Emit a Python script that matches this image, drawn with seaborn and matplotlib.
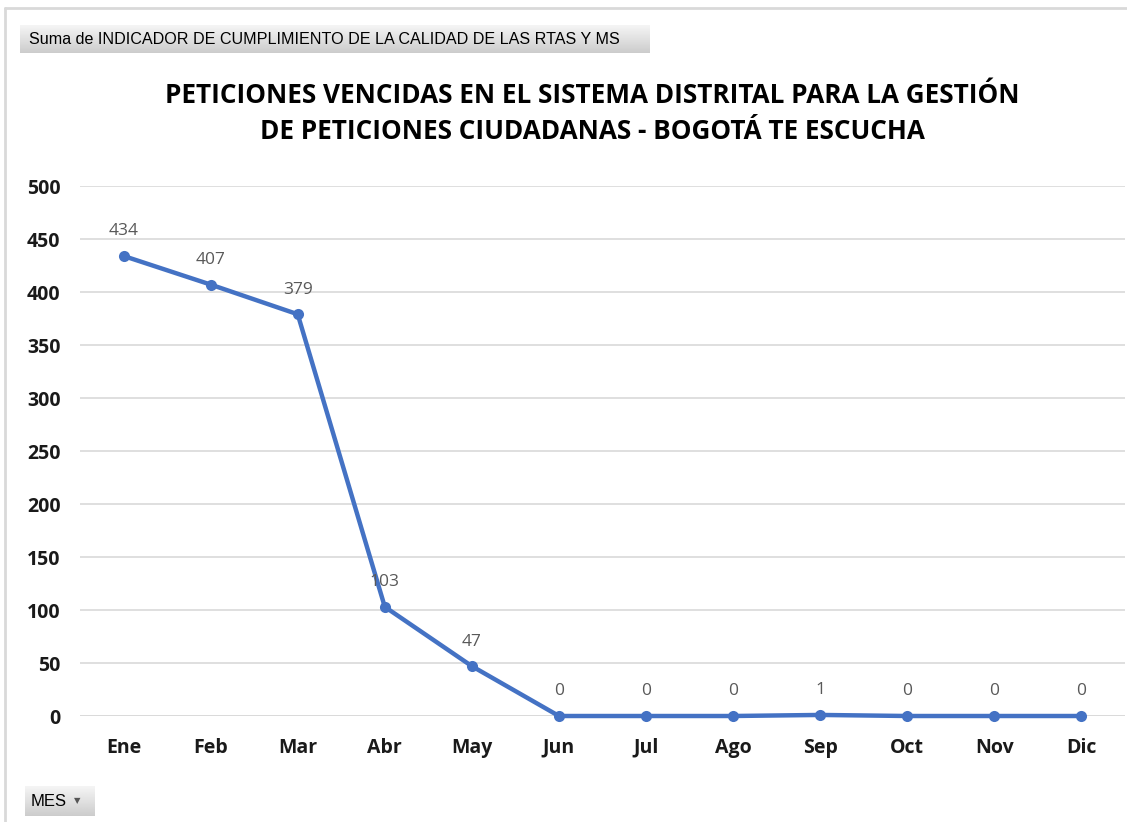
import numpy as np
import pandas as pd
import matplotlib
matplotlib.use("Agg")
import matplotlib.pyplot as plt
import seaborn as sns

# --- Data ---
meses = ["Ene", "Feb", "Mar", "Abr", "May", "Jun", "Jul", "Ago", "Sep", "Oct", "Nov", "Dic"]
valores = [434, 407, 379, 103, 47, 0, 0, 0, 1, 0, 0, 0]
yticks = [0, 50, 100, 150, 200, 250, 300, 350, 400, 450, 500]

titulo = ("PETICIONES VENCIDAS EN EL SISTEMA DISTRITAL PARA LA GESTIÓN\n"
          "DE PETICIONES CIUDADANAS - BOGOTÁ TE ESCUCHA")
campo_valor = "Suma de INDICADOR DE CUMPLIMIENTO DE LA CALIDAD DE LAS RTAS Y MS"
campo_eje = "MES"

df = pd.DataFrame({"mes": meses, "valor": valores})

sns.set_theme(style="white")
plt.rcParams["font.family"] = ["Open Sans", "DejaVu Sans"]

line_color = "#4472C4"
label_color = "#595959"

fig = plt.figure(figsize=(11.27, 8.22), dpi=100)
ax = fig.add_axes([80 / 1127, 1 - 716 / 822, 1045 / 1127, 530 / 822])

sns.lineplot(data=df, x="mes", y="valor", sort=False, ax=ax, color=line_color,
             linewidth=3.2, marker="o", markersize=8, markeredgewidth=0,
             clip_on=False, zorder=3)

ax.set_xlim(-0.5, len(meses) - 0.5)
ax.set_ylim(0, 500)
ax.set_yticks(yticks)
ax.yaxis.grid(True, color="#d9d9d9", linewidth=1.2, zorder=0)
ax.set_axisbelow(True)
for s in ax.spines.values():
    s.set_visible(False)
ax.axhline(0, color="#d9d9d9", linewidth=1.2, zorder=1)
ax.set_xlabel("")
ax.set_ylabel("")
ax.tick_params(axis="both", length=0, labelsize=14)
ax.tick_params(axis="x", pad=15.5)
ax.tick_params(axis="y", pad=14)
for lab in ax.get_xticklabels() + ax.get_yticklabels():
    lab.set_fontweight("bold")
    lab.set_color("#1a1a1a")

# data labels
for i, v in enumerate(valores):
    ax.annotate(str(v), (i, v), xytext=(0, 12), textcoords="offset points",
                ha="center", va="bottom", fontsize=12.5, color=label_color)

fig.text(592 / 1127, 1 - 113.5 / 822, titulo, ha="center", va="center",
         fontsize=18.8, fontweight="bold", color="#000000", linespacing=1.45)

# frame lines of the chart area
fig.add_artist(plt.Line2D([5 / 1127, 5 / 1127], [0, 1 - 8 / 822], color="#d9d9d9", lw=2))
fig.add_artist(plt.Line2D([5 / 1127, 1], [1 - 8 / 822, 1 - 8 / 822], color="#d9d9d9", lw=2))

# pivot field buttons
grad = np.linspace(0.96, 0.80, 50).reshape(-1, 1)

bx1 = fig.add_axes([20 / 1127, 1 - 53 / 822, 630 / 1127, 28 / 822])
bx1.imshow(grad, cmap="gray", vmin=0, vmax=1, aspect="auto", extent=[0, 1, 0, 1])
bx1.axis("off")
bx1.text(0.015, 0.5, campo_valor, ha="left", va="center", fontsize=11.6,
         family=["Liberation Sans", "DejaVu Sans"], color="#000000", transform=bx1.transAxes)

bx2 = fig.add_axes([25 / 1127, 1 - 816 / 822, 70 / 1127, 30 / 822])
bx2.imshow(grad, cmap="gray", vmin=0, vmax=1, aspect="auto", extent=[0, 1, 0, 1])
bx2.axis("off")
bx2.text(0.08, 0.5, campo_eje, ha="left", va="center", fontsize=12,
         family=["Liberation Sans", "DejaVu Sans"], color="#000000", transform=bx2.transAxes)
bx2.text(0.74, 0.5, "\u25bc", ha="center", va="center", fontsize=6,
         family=["DejaVu Sans"], color="#555555", transform=bx2.transAxes)

fig.savefig("out.png", dpi=100, facecolor="white")
